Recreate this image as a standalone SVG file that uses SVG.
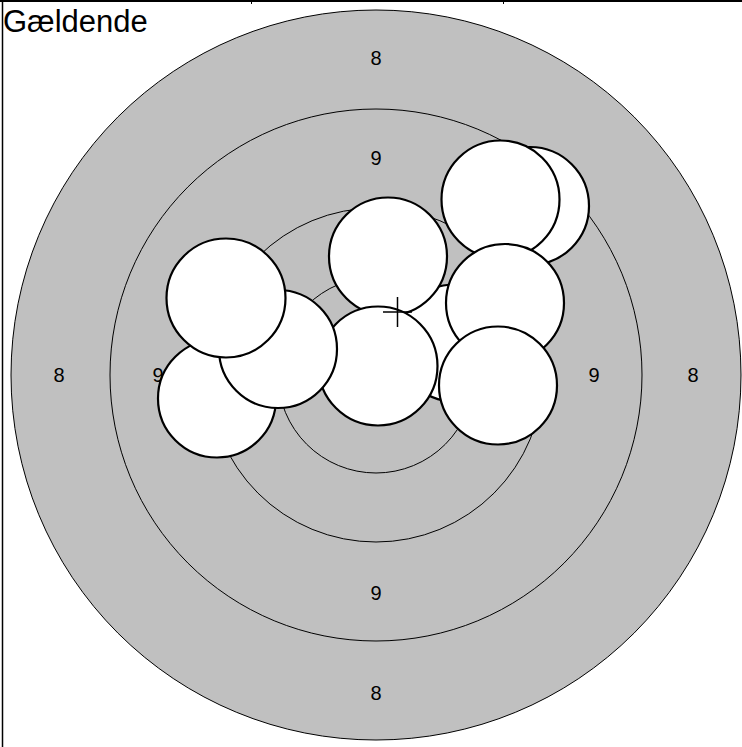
<svg xmlns="http://www.w3.org/2000/svg" width="742" height="747" viewBox="0 0 742 747">
<style>
.ring{fill:none;stroke:#000;stroke-width:1}
.lbl{font-family:"Liberation Sans",Arial,sans-serif;font-size:20px;text-anchor:middle;fill:#000}
.hole{fill:#fff;stroke:#000;stroke-width:2.2}
.frame{stroke:#000;fill:none}
</style>
<rect width="742" height="747" fill="#fff"/>
<g id="frame">
<line class="frame" x1="0" y1="1" x2="742" y2="1" stroke-width="2"/>
<line class="frame" x1="2.5" y1="0" x2="2.5" y2="747" stroke-width="1.5"/>
<line class="frame" x1="251.5" y1="0" x2="251.5" y2="4" stroke-width="1"/>
<line class="frame" x1="503.5" y1="0" x2="503.5" y2="4" stroke-width="1"/>
</g>
<text x="3" y="32" font-family="Liberation Sans, Arial, sans-serif" font-size="31">Gældende</text>
<g id="target">
<circle cx="376" cy="375" r="365" fill="#c0c0c0" stroke="#000" stroke-width="1"/>
<circle class="ring" cx="376" cy="375" r="266"/>
<circle class="ring" cx="376" cy="375" r="167"/>
<circle class="ring" cx="376" cy="375" r="98"/>
</g>
<g id="labels">
<text class="lbl" x="376" y="65">8</text>
<text class="lbl" x="376" y="165">9</text>
<text class="lbl" x="376" y="600">9</text>
<text class="lbl" x="376" y="700">8</text>
<text class="lbl" x="59" y="382">8</text>
<text class="lbl" x="158" y="382">9</text>
<text class="lbl" x="594" y="382">9</text>
<text class="lbl" x="693" y="382">8</text>
</g>
<g id="holes">
<circle id="h1" class="hole" cx="530" cy="206" r="59"/>
<circle id="h2" class="hole" cx="500.5" cy="199.5" r="59"/>
<circle id="h3" class="hole" cx="455" cy="343" r="58.5"/>
<circle id="h4" class="hole" cx="388" cy="256.5" r="59"/>
<circle id="h5" class="hole" cx="378" cy="366" r="59.5"/>
<circle id="h6" class="hole" cx="217" cy="398.5" r="59"/>
<circle id="h7" class="hole" cx="278" cy="349" r="59"/>
<circle id="h8" class="hole" cx="226" cy="298" r="59.5"/>
<circle id="h9" class="hole" cx="505" cy="303" r="59"/>
<circle id="h10" class="hole" cx="498" cy="385.5" r="59"/>
</g>
<g id="cross" stroke="#000" stroke-width="1.5">
<line x1="383" y1="312" x2="412" y2="312"/>
<line x1="397.5" y1="297" x2="397.5" y2="327"/>
</g>
</svg>
